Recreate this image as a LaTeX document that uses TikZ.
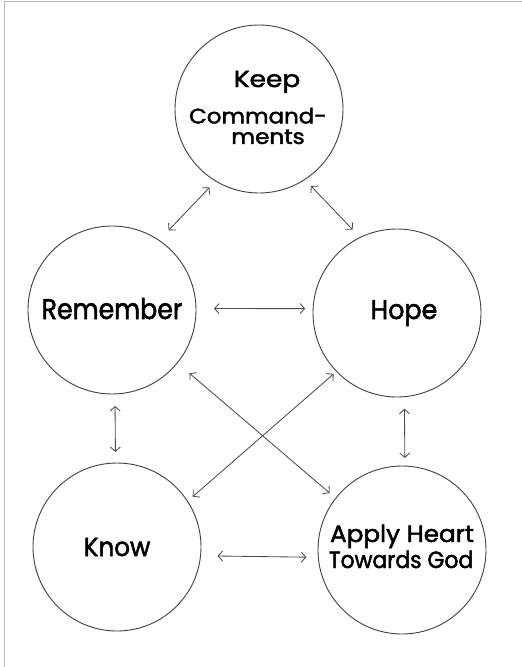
\documentclass[tikz,border=0pt]{standalone}
\usepackage{fontspec}
\setmainfont{Poppins}[FakeBold=2]
\usetikzlibrary{arrows.meta}
\begin{document}
\begin{tikzpicture}[x=1pt,y=-1pt,
  circ/.style={circle,draw=black!75,line width=0.9pt,minimum size=168pt,inner sep=0pt,outer sep=0pt},
  lbl/.style={inner sep=0pt,anchor=base,text height=0.7em,text depth=0em},
  arr/.style={draw=black!70,line width=0.85pt,{Straight Barb[length=4.5pt,width=10pt]}-{Straight Barb[length=4.5pt,width=10pt]}},
  frame/.style={draw=black!28,line width=1pt}]
\useasboundingbox (0,0) rectangle (522,667);
\draw[frame] (4.5,667) -- (4.5,1) -- (522,1);
\node[circ] (keep) at (259,109) {};
\node[circ] (rem) at (112,310) {};
\node[circ] (hope) at (397,313) {};
\node[circ] (know) at (117,547) {};
\node[circ] (apply) at (402,550) {};
\node[lbl,font=\fontsize{23}{23}\selectfont] (t1) at (267,87) {\scalebox{1.15}[1]{Keep}};
\node[inner sep=0pt,align=center,font=\fontsize{21}{20.5}\selectfont] (t2) at (258,126) {\scalebox{1.09}[1]{Command-}\\\hspace{20pt}\scalebox{1.1}[1]{ments}};
\node[lbl,font=\fontsize{28.5}{28.5}\selectfont] (t4) at (112,319) {\scalebox{0.885}[1]{Remember}};
\node[lbl,font=\fontsize{27}{27}\selectfont] (t5) at (404,319) {\scalebox{0.94}[1]{Hope}};
\node[lbl,font=\fontsize{26}{26}\selectfont] (t6) at (117,556) {\scalebox{0.95}[1]{Know}};
\node[lbl,font=\fontsize{23.5}{23.5}\selectfont] (t7) at (402,542) {\scalebox{1.05}[1]{Apply Heart}};
\node[lbl,font=\fontsize{23.5}{23.5}\selectfont] (t8) at (401,568) {\scalebox{0.93}[1]{Towards God}};
\draw[arr,shorten <=9pt,shorten >=14pt] (keep.239) -- (rem.56);
\draw[arr,shorten <=9pt,shorten >=11pt] (keep.303) -- (hope.116);
\draw[arr,shorten <=18pt,shorten >=8pt] (rem.1) -- (hope.177);
\draw[arr,shorten <=12pt,shorten >=11pt] (rem.272) -- (know.91);
\draw[arr,shorten <=12pt,shorten >=8pt] (hope.275) -- (apply.88);
\draw[arr,shorten <=16pt,shorten >=8pt] (rem.321) -- (apply.142);
\draw[arr,shorten <=4pt,shorten >=7pt] (hope.224) -- (know.33);
\draw[arr,shorten <=17pt,shorten >=12pt] (know.354) -- (apply.185);
\end{tikzpicture}
\end{document}
